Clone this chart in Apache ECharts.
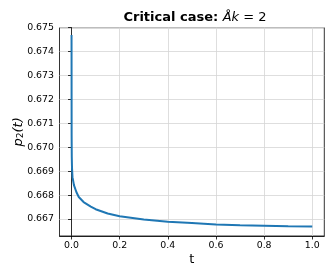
<!DOCTYPE html>
<html>
<head>
<meta charset="utf-8">
<script src="https://cdn.jsdelivr.net/npm/echarts@6/dist/echarts.min.js"></script>
<style>html,body{margin:0;padding:0;background:#fff}#c{width:332px;height:277px}</style>
</head>
<body>
<div id="c"></div>
<script>
const tValues = [0, 0.0004, 0.001, 0.002, 0.004, 0.01, 0.02, 0.03, 0.05, 0.08, 0.1, 0.15, 0.2, 0.3, 0.4, 0.5, 0.6, 0.7, 0.8, 0.9, 1.0];
const p2Values = [0.67469, 0.6705, 0.6696, 0.66913, 0.66875, 0.66842, 0.66813, 0.66792, 0.66771, 0.66752, 0.66741, 0.66723, 0.66712, 0.66698, 0.66689, 0.66683, 0.66677, 0.66674, 0.66672, 0.66670, 0.66669];
const xTicks = [0, 0.2, 0.4, 0.6, 0.8, 1.0];
const yTicks = [0.667, 0.668, 0.669, 0.670, 0.671, 0.672, 0.673, 0.674, 0.675];

const FONT = 'DejaVu Sans';
const chart = echarts.init(document.getElementById('c'), null, {renderer: 'canvas'});
chart.setOption({
  animation: false,
  title: {
    text: '{b|Critical case: }{i|Åk}{n| = 2}',
    left: 190, top: 6, textAlign: 'center',
    textStyle: {
      fontWeight: 'normal',
      rich: {
        b: {fontFamily: FONT, fontWeight: 'bold', fontSize: 13, color: '#000'},
        i: {fontFamily: FONT, fontStyle: 'italic', fontWeight: 'normal', fontSize: 13, color: '#000'},
        n: {fontFamily: FONT, fontWeight: 'normal', fontSize: 13, color: '#000'}
      }
    }
  },
  grid: {left: 59.5, right: 7.7, top: 27.7, bottom: 41, outerBoundsMode: 'none', containLabel: false, show: true, borderColor: '#000', borderWidth: 0.8, backgroundColor: 'transparent'},
  xAxis: {
    type: 'value', min: -0.05, max: 1.05,
    name: 't', nameLocation: 'middle', nameGap: 17, nameMoveOverlap: false,
    nameTextStyle: {fontFamily: FONT, fontSize: 13, color: '#000'},
    axisLine: {show: true, lineStyle: {color: '#000', width: 0.8}},
    axisTick: {show: true, length: 3.5, lineStyle: {color: '#000', width: 0.8}, customValues: xTicks},
    axisLabel: {fontFamily: FONT, fontSize: 9.4, color: '#000', margin: 5, customValues: xTicks, formatter: v => v.toFixed(1)},
    splitLine: {show: true, lineStyle: {color: '#d6d6d6', width: 0.8}}
  },
  yAxis: {
    type: 'value', min: 0.66629, max: 0.675,
    name: '{i|p}{s|2}{n|(t)}', nameLocation: 'middle', nameGap: 34, nameRotate: 90, nameMoveOverlap: false,
    nameTextStyle: {
      rich: {
        i: {fontFamily: FONT, fontStyle: 'italic', fontSize: 13, color: '#000'},
        s: {fontFamily: FONT, fontSize: 9, color: '#000', padding: [5, 0, 0, 0]},
        n: {fontFamily: FONT, fontStyle: 'italic', fontSize: 13, color: '#000'}
      }
    },
    axisLine: {show: true, lineStyle: {color: '#000', width: 0.8}},
    axisTick: {show: true, length: 3.5, lineStyle: {color: '#000', width: 0.8}, customValues: yTicks},
    axisLabel: {fontFamily: FONT, fontSize: 9.4, color: '#000', margin: 5.5, customValues: yTicks, formatter: v => v.toFixed(3)},
    splitLine: {show: true, lineStyle: {color: '#d6d6d6', width: 0.8}}
  },
  series: [{
    type: 'line',
    data: tValues.map((t, i) => [t, p2Values[i]]),
    showSymbol: false,
    lineStyle: {color: '#1f77b4', width: 2},
    clip: true
  }]
});
</script>
</body>
</html>
